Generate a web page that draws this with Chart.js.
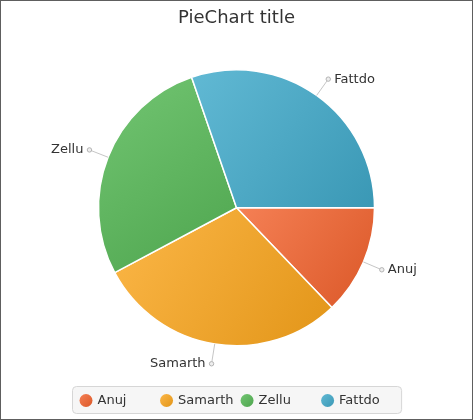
<!DOCTYPE html>
<html>
<head>
<meta charset="utf-8">
<script src="https://cdn.jsdelivr.net/npm/chart.js@4/dist/chart.umd.min.js"></script>
<style>
  html, body { margin: 0; padding: 0; background: #ffffff; }
  #wrap { width: 473px; height: 420px; position: relative; }
</style>
</head>
<body>
<div id="wrap"><canvas id="c" width="473" height="420"></canvas></div>
<script>
// ---- data ----
const titleText = 'PieChart title';
const categories = ['Anuj', 'Samarth', 'Zellu', 'Fattdo'];
const values = [14, 32, 30, 33];
const baseColors = ['#f3622d', '#fba71b', '#57b757', '#41a9c9'];
const lightColors = ['#f58055', '#fcb748', '#72c572', '#61b9d4'];
const darkColors = ['#db5828', '#e29518', '#4ea54e', '#3a98b5'];

const FONT = "'DejaVu Sans', sans-serif";
const TEXT_COLOR = '#333333';

function sliceBBox(x, y, r, a0, a1) {
  const pts = [[x, y], [x + r * Math.cos(a0), y + r * Math.sin(a0)], [x + r * Math.cos(a1), y + r * Math.sin(a1)]];
  for (let k = -8; k <= 8; k++) {
    const a = k * Math.PI / 2;
    if (a > a0 && a < a1) pts.push([x + r * Math.cos(a), y + r * Math.sin(a)]);
  }
  let x0 = Infinity, y0 = Infinity, x1 = -Infinity, y1 = -Infinity;
  pts.forEach(p => { x0 = Math.min(x0, p[0]); y0 = Math.min(y0, p[1]); x1 = Math.max(x1, p[0]); y1 = Math.max(y1, p[1]); });
  return {x0, y0, x1, y1};
}

const gradientPlugin = {
  id: 'sliceGradient',
  beforeDatasetsDraw(chart) {
    const ctx = chart.ctx;
    const meta = chart.getDatasetMeta(0);
    meta.data.forEach((arc, i) => {
      const p = arc.getProps(['x', 'y', 'startAngle', 'endAngle', 'outerRadius'], true);
      const b = sliceBBox(p.x, p.y, p.outerRadius, p.startAngle, p.endAngle);
      const g = ctx.createLinearGradient(b.x0, b.y0, b.x1, b.y1);
      g.addColorStop(0, lightColors[i]);
      g.addColorStop(1, darkColors[i]);
      arc.options = Object.assign({}, arc.options, {backgroundColor: g});
    });
  }
};

const labelPlugin = {
  id: 'outerLabels',
  afterDatasetsDraw(chart) {
    const ctx = chart.ctx;
    const meta = chart.getDatasetMeta(0);
    ctx.save();
    ctx.font = '13px ' + FONT;
    ctx.textBaseline = 'middle';
    meta.data.forEach((arc, i) => {
      const p = arc.getProps(['x', 'y', 'startAngle', 'endAngle', 'outerRadius'], true);
      const mid = (p.startAngle + p.endAngle) / 2;
      const c = Math.cos(mid), s = Math.sin(mid);
      const x1 = p.x + c * p.outerRadius, y1 = p.y + s * p.outerRadius;
      const x2 = p.x + c * (p.outerRadius + 20), y2 = p.y + s * (p.outerRadius + 20);
      ctx.strokeStyle = '#c6c6c6';
      ctx.lineWidth = 1;
      ctx.beginPath();
      ctx.moveTo(x1, y1);
      ctx.lineTo(x2, y2);
      ctx.stroke();
      ctx.beginPath();
      ctx.arc(x2, y2, 2.2, 0, Math.PI * 2);
      ctx.fillStyle = '#eeeeee';
      ctx.fill();
      ctx.strokeStyle = '#b4b4b4';
      ctx.stroke();
      ctx.fillStyle = TEXT_COLOR;
      if (c >= 0) {
        ctx.textAlign = 'left';
        ctx.fillText(chart.data.labels[i], x2 + 6, y2);
      } else {
        ctx.textAlign = 'right';
        ctx.fillText(chart.data.labels[i], x2 - 6, y2);
      }
    });
    ctx.restore();
  }
};

const legendPlugin = {
  id: 'tileLegend',
  afterDraw(chart) {
    const ctx = chart.ctx;
    const labels = chart.data.labels;
    ctx.save();
    ctx.font = '13px ' + FONT;
    let maxW = 0;
    labels.forEach(l => { maxW = Math.max(maxW, ctx.measureText(l).width); });
    const padX = 7, gap = 7, textOff = 18, symR = 6.5;
    const tile = textOff + maxW;
    const n = labels.length;
    const boxW = padX * 2 + n * tile + (n - 1) * gap;
    const boxH = 27;
    const bx = Math.round(chart.width / 2 - boxW / 2) + 0.5;
    const by = chart.height - 34 + 0.5;
    // box
    const r = 4;
    ctx.beginPath();
    ctx.moveTo(bx + r, by);
    ctx.lineTo(bx + boxW - r, by);
    ctx.arcTo(bx + boxW, by, bx + boxW, by + r, r);
    ctx.lineTo(bx + boxW, by + boxH - r);
    ctx.arcTo(bx + boxW, by + boxH, bx + boxW - r, by + boxH, r);
    ctx.lineTo(bx + r, by + boxH);
    ctx.arcTo(bx, by + boxH, bx, by + boxH - r, r);
    ctx.lineTo(bx, by + r);
    ctx.arcTo(bx, by, bx + r, by, r);
    ctx.closePath();
    ctx.fillStyle = '#f6f6f6';
    ctx.fill();
    ctx.strokeStyle = '#d6d6d6';
    ctx.lineWidth = 1;
    ctx.stroke();
    const cy = by + boxH / 2 + 0.5;
    labels.forEach((l, i) => {
      const tx = bx + padX + i * (tile + gap);
      const cx = tx + symR;
      const g = ctx.createLinearGradient(cx - symR, cy - symR, cx + symR, cy + symR);
      g.addColorStop(0, lightColors[i]);
      g.addColorStop(1, darkColors[i]);
      ctx.beginPath();
      ctx.arc(cx, cy, symR, 0, Math.PI * 2);
      ctx.fillStyle = g;
      ctx.fill();
      ctx.fillStyle = TEXT_COLOR;
      ctx.textAlign = 'left';
      ctx.textBaseline = 'middle';
      ctx.fillText(l, tx + textOff, cy);
    });
    ctx.restore();
  }
};

const framePlugin = {
  id: 'frame',
  beforeDraw(chart) {
    const ctx = chart.ctx;
    ctx.save();
    ctx.fillStyle = '#ffffff';
    ctx.fillRect(0, 0, chart.width, chart.height);
    ctx.restore();
  },
  afterDraw(chart) {
    const ctx = chart.ctx;
    ctx.save();
    ctx.strokeStyle = '#5e5e5e';
    ctx.lineWidth = 1;
    ctx.strokeRect(0.5, 0.5, chart.width - 1, chart.height - 1);
    ctx.restore();
  }
};

new Chart(document.getElementById('c'), {
  type: 'pie',
  data: {
    labels: categories,
    datasets: [{
      data: values,
      backgroundColor: baseColors,
      borderColor: '#ffffff',
      borderWidth: 1.5
    }]
  },
  options: {
    responsive: false,
    animation: false,
    rotation: 90,
    layout: { padding: { top: 0, bottom: 73.5, left: 0, right: 0 } },
    plugins: {
      legend: { display: false },
      tooltip: { enabled: false },
      title: {
        display: true,
        text: titleText,
        color: TEXT_COLOR,
        font: { family: FONT, size: 18, weight: 'normal' },
        padding: { top: 8, bottom: 39.4 }
      }
    }
  },
  plugins: [framePlugin, gradientPlugin, labelPlugin, legendPlugin]
});
</script>
</body>
</html>
